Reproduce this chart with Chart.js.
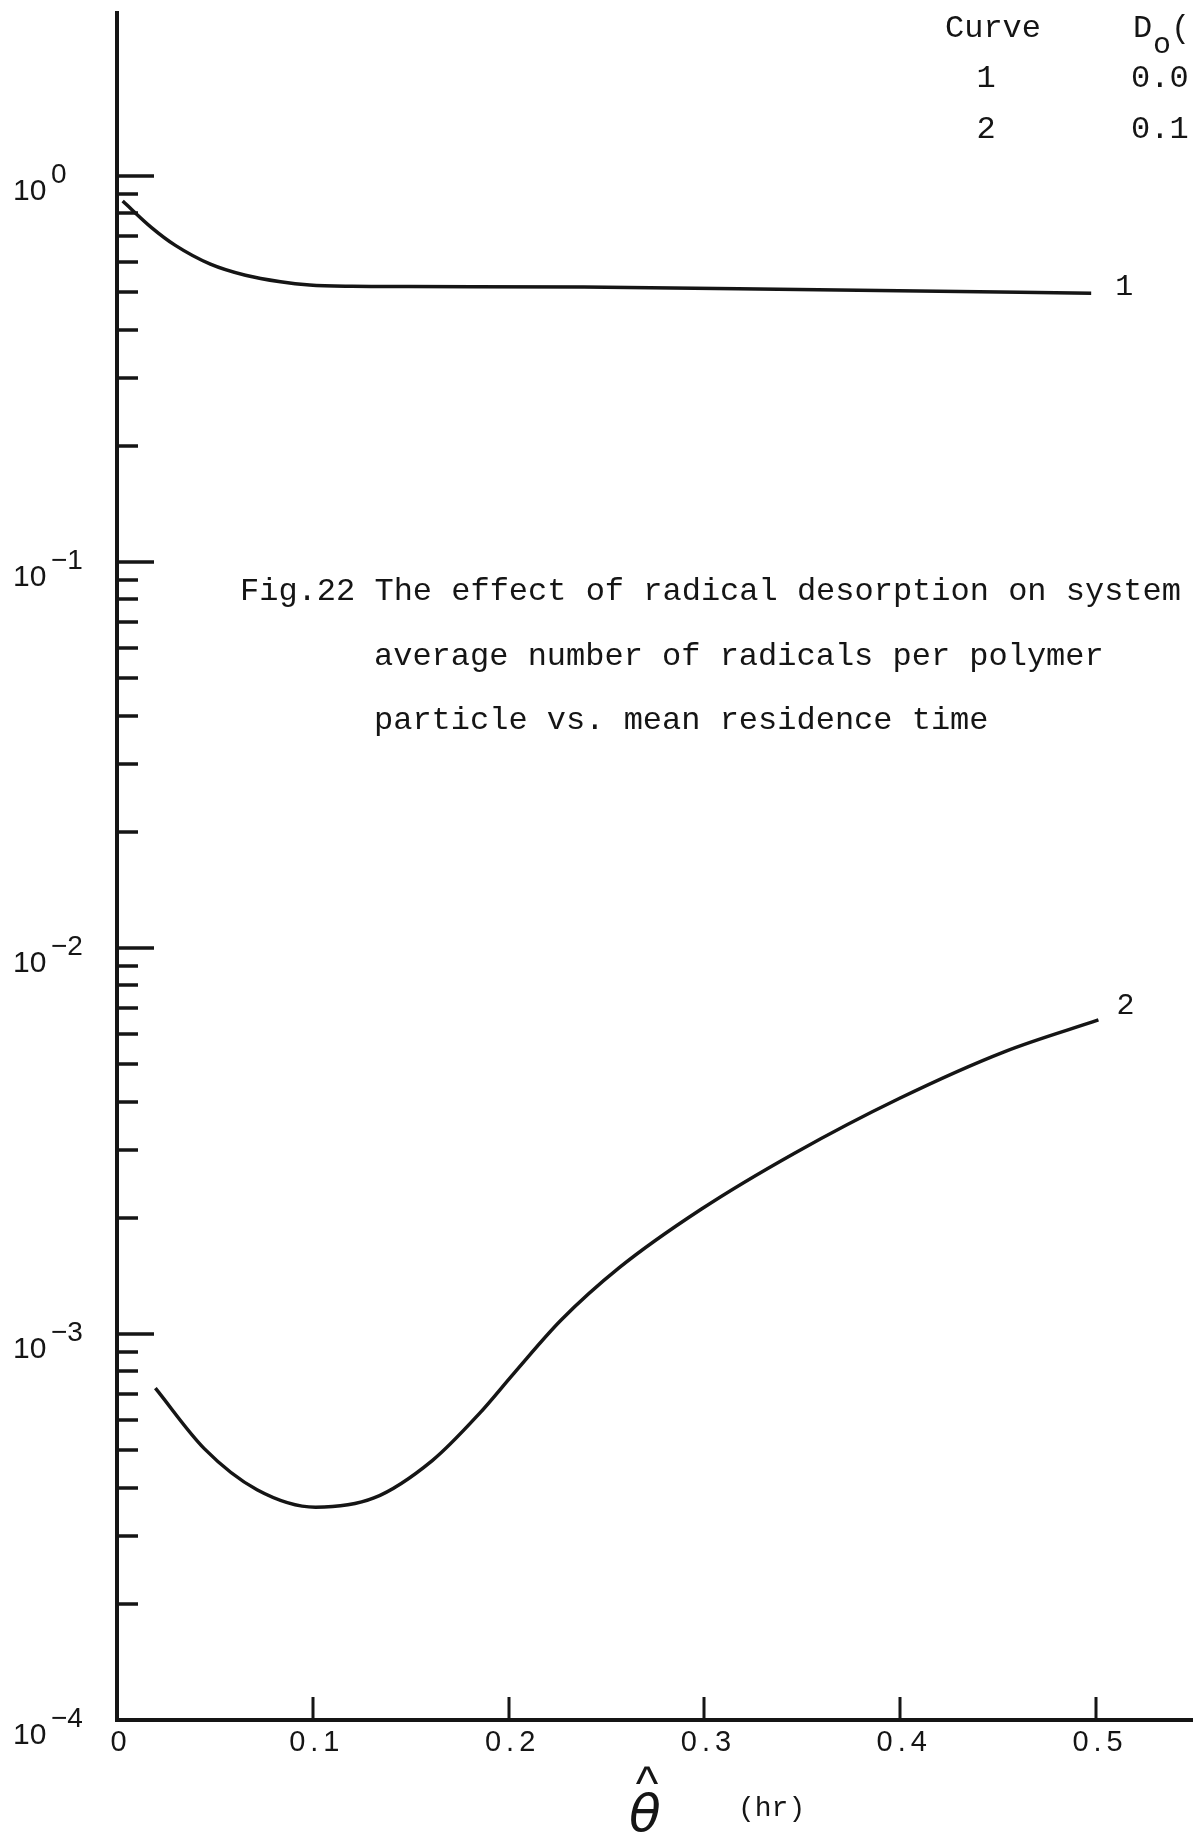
<!DOCTYPE html>
<html>
<head>
<meta charset="utf-8">
<title>Fig.22 radical desorption</title>
<script src="https://cdn.jsdelivr.net/npm/chart.js@4.4.1/dist/chart.umd.min.js"></script>
<style>
  html, body { margin: 0; padding: 0; background: #fff; }
  #wrap { width: 1193px; height: 1833px; position: relative; overflow: hidden; }
</style>
</head>
<body>
<div id="wrap"><canvas id="fig22" width="1193" height="1833"></canvas></div>
<script>
/* Fig.22 — average radicals per particle vs. mean residence time (log y) */

const INK = '#151515';

// curve 1 : Do = 0.0
const curve1Theta = [0.0029, 0.0178, 0.0298, 0.0477, 0.0656, 0.0835, 0.0984, 0.12, 0.149, 0.2385, 0.358, 0.4975];
const curve1N     = [0.861, 0.734, 0.661, 0.591, 0.553, 0.532, 0.522, 0.518, 0.517, 0.516, 0.507, 0.497];

// curve 2 : Do = 0.1
const curve2Theta = [0.0196, 0.0447, 0.0715, 0.1014, 0.1312, 0.161, 0.1849, 0.2028, 0.2267, 0.2565, 0.2983, 0.346, 0.3997, 0.4534, 0.5012];
const curve2N     = [7.24e-4, 5.04e-4, 3.95e-4, 3.56e-4, 3.76e-4, 4.70e-4, 6.21e-4, 7.92e-4, 1.085e-3, 1.485e-3, 2.104e-3, 2.94e-3, 4.08e-3, 5.39e-3, 6.51e-3];

const curveNames  = ['1', '2'];

// axes
const xTicks      = [0, 0.1, 0.2, 0.3, 0.4, 0.5];
const xTickLabels = ['0', '0.1', '0.2', '0.3', '0.4', '0.5'];
const yDecades    = [1, 1e-1, 1e-2, 1e-3, 1e-4];
const yExponents  = ['0', '\u22121', '\u22122', '\u22123', '\u22124'];
const yMinorSteps = [2, 3, 4, 5, 6, 7, 8, 9];

// legend table + caption
const legendCurve  = ['1', '2'];
const legendD0     = ['0.0', '0.1'];
const captionLines = [
  'Fig.22 The effect of radical desorption on system',
  'average number of radicals per polymer',
  'particle vs. mean residence time',
];

const MONO  = '"Liberation Mono", "Courier New", monospace';
const SANS  = '"Liberation Sans", Arial, sans-serif';

function isDecade(v) {
  const l = Math.log10(v);
  return Math.abs(l - Math.round(l)) < 1e-9;
}

/* ── ticks inward, labels, caption, legend ── */
const paperMarks = {
  id: 'paperMarks',
  beforeDraw(chart) {
    const { ctx } = chart;
    ctx.save();
    ctx.fillStyle = '#fff';
    ctx.fillRect(0, 0, chart.width, chart.height);
    ctx.restore();
  },
  afterDraw(chart) {
    const { ctx, chartArea: area, scales: { x, y } } = chart;
    ctx.save();
    ctx.strokeStyle = INK;
    ctx.fillStyle = INK;
    ctx.lineCap = 'butt';

    // y tick marks, pointing into the plot
    ctx.lineWidth = 3.5;
    y.ticks.forEach(t => {
      const py = Math.round(y.getPixelForValue(t.value));
      const len = isDecade(t.value) ? 37 : 21;
      ctx.beginPath();
      ctx.moveTo(area.left, py);
      ctx.lineTo(area.left + len, py);
      ctx.stroke();
    });

    // x tick marks, pointing up
    ctx.lineWidth = 3;
    x.ticks.forEach(t => {
      if (t.value === 0) return;
      const px = Math.round(x.getPixelForValue(t.value));
      ctx.beginPath();
      ctx.moveTo(px, area.bottom);
      ctx.lineTo(px, area.bottom - 23);
      ctx.stroke();
    });

    // y labels 10^n
    ctx.textAlign = 'left';
    ctx.textBaseline = 'alphabetic';
    yDecades.forEach((d, i) => {
      const py = y.getPixelForValue(d);
      ctx.font = '30px ' + SANS;
      ctx.fillText('10', 13, py + 24);
      ctx.font = '28px ' + SANS;
      ctx.fillText(yExponents[i], 51, py + 7);
    });

    // x labels
    ctx.font = '29px ' + SANS;
    ctx.letterSpacing = '5px';
    ctx.textAlign = 'center';
    xTicks.forEach((v, i) => {
      ctx.fillText(xTickLabels[i], x.getPixelForValue(v) + 4, area.bottom + 31);
    });
    ctx.letterSpacing = '0px';

    // axis title  θ̂ (hr)
    ctx.font = 'italic 52px "DejaVu Sans"';
    ctx.fillText('\u03B8', 645, 1831);
    ctx.font = '48px ' + SANS;
    ctx.fillText('^', 647, 1800);
    ctx.textAlign = 'left';
    ctx.font = '28px ' + MONO;
    ctx.fillText('(hr)', 738, 1816);

    // curve numbers at the line ends
    ctx.font = '30px ' + MONO;
    const endOffsets = [[24, 2], [18, -6]];
    curveNames.forEach((name, i) => {
      const pts = chart.getDatasetMeta(i).data;
      const last = pts[pts.length - 1];
      ctx.fillText(name, last.x + endOffsets[i][0], last.y + endOffsets[i][1]);
    });

    // legend table, top right
    ctx.font = '32px ' + MONO;
    ctx.fillText('Curve', 945, 37);
    ctx.fillText('D', 1133, 37);
    ctx.fillText('(', 1171, 37);
    ctx.font = '30px ' + MONO;
    ctx.fillText('o', 1153, 53);
    ctx.font = '32px ' + MONO;
    legendCurve.forEach((c, i) => {
      const base = 87 + i * 51;
      ctx.textAlign = 'center';
      ctx.fillText(c, 986, base);
      ctx.textAlign = 'left';
      ctx.fillText(legendD0[i], 1131, base);
    });

    // caption
    ctx.font = '32px ' + MONO;
    captionLines.forEach((line, i) => {
      ctx.fillText(line, i === 0 ? 240 : 374, 600 + i * 64.5);
    });

    ctx.restore();
  },
};

const lineStyle = {
  borderColor: INK,
  borderWidth: 3.5,
  pointRadius: 0,
  fill: false,
  cubicInterpolationMode: 'monotone',
};

new Chart(document.getElementById('fig22'), {
  type: 'line',
  data: {
    datasets: [
      { label: curveNames[0], data: curve1Theta.map((t, i) => ({ x: t, y: curve1N[i] })), ...lineStyle },
      { label: curveNames[1], data: curve2Theta.map((t, i) => ({ x: t, y: curve2N[i] })), ...lineStyle },
    ],
  },
  options: {
    responsive: false,
    devicePixelRatio: 1,
    animation: false,
    events: [],
    layout: { padding: { top: 13, right: 0, bottom: 0, left: 0 } },
    plugins: { legend: { display: false }, tooltip: { enabled: false } },
    scales: {
      x: {
        type: 'linear', min: 0, max: 0.5495,
        afterFit: s => { s.height = 113; },
        afterBuildTicks: s => { s.ticks = xTicks.map(v => ({ value: v })); },
        ticks: { display: false },
        grid: { display: true, drawOnChartArea: false, drawTicks: false },
        border: { display: true, color: INK, width: 4 },
      },
      y: {
        type: 'logarithmic', min: 1e-4, max: 2.644,
        afterFit: s => { s.width = 117; },
        afterBuildTicks: s => {
          const vals = [];
          yDecades.forEach(d => {
            vals.push(d);
            if (d < 1) yMinorSteps.forEach(m => vals.push(m * d));
          });
          s.ticks = vals.sort((a, b) => a - b).map(v => ({ value: v }));
        },
        ticks: { display: false },
        grid: { display: true, drawOnChartArea: false, drawTicks: false },
        border: { display: true, color: INK, width: 4 },
      },
    },
  },
  plugins: [paperMarks],
});
</script>
</body>
</html>
